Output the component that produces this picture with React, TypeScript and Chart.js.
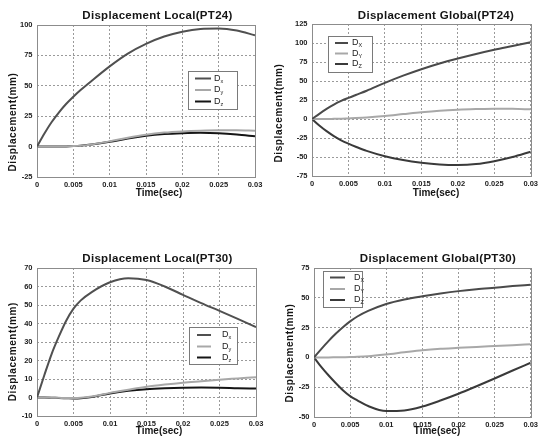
import React, { useEffect, useRef } from "react";
import { Chart, registerables } from "chart.js";

Chart.register(...registerables);

// ---------- data ----------
const timeSec = [0, 0.001, 0.002, 0.003, 0.004, 0.005, 0.006, 0.0075, 0.01, 0.0125, 0.015, 0.0175, 0.02, 0.0225, 0.025, 0.0275, 0.03];
const timeTicks = [0, 0.005, 0.01, 0.015, 0.02, 0.025, 0.03];

const localPT24Dx = [0, 10.5, 20, 28, 35, 41, 46.5, 54, 66, 76.5, 84.5, 90.5, 94.5, 96.8, 97.2, 95.5, 91.5];
const localPT24Dy = [0, 0, 0, 0, 0.1, 0.4, 0.8, 1.8, 4.3, 7.3, 9.8, 11.5, 12.5, 13.1, 13.4, 13.4, 13];
const localPT24Dz = [0, 0, 0, 0, 0.1, 0.4, 0.8, 1.7, 3.9, 6.7, 8.9, 10.3, 11, 11.3, 11, 10, 8.5];
const localPT24Ticks = [-25, 0, 25, 50, 75, 100];

const globalPT24Dx = [0, 6.8, 13.2, 19, 23.8, 27.8, 31.6, 37.2, 47.5, 57, 65.5, 73, 79.5, 85.5, 91, 96, 101];
const globalPT24Dy = [0, 0, 0, 0.2, 0.4, 0.8, 1.2, 2, 4, 6.5, 9, 11, 12.3, 13.1, 13.6, 13.4, 12.7];
const globalPT24Dz = [0, -8.5, -16, -22.5, -28, -32.5, -36.5, -42, -49, -54, -57.5, -59.8, -60.5, -59.3, -55.5, -50, -43];
const globalPT24Ticks = [-75, -50, -25, 0, 25, 50, 75, 100, 125];

const localPT30Dx = [0, 12, 23.5, 33, 41.5, 48, 52.5, 57, 62.3, 64.5, 63.5, 60, 55.5, 51, 46.8, 42.5, 38];
const localPT30Dy = [0, 0, -0.1, -0.2, -0.3, -0.3, -0.2, 0.5, 2.5, 4.2, 5.8, 7, 8, 8.8, 9.6, 10.3, 11];
const localPT30Dz = [0, 0, -0.1, -0.3, -0.4, -0.5, -0.4, 0.3, 2.2, 3.6, 4.5, 5, 5.3, 5.4, 5.3, 5, 4.8];
const localPT30Ticks = [-10, 0, 10, 20, 30, 40, 50, 60, 70];

const globalPT30Dx = [0, 7, 13.7, 19.8, 25.3, 30.2, 34.3, 39, 44.8, 48.6, 51.3, 53.6, 55.6, 57.2, 58.5, 59.8, 61];
const globalPT30Dy = [0, 0, 0, 0.1, 0.2, 0.3, 0.5, 1, 2.5, 4.3, 6, 7.2, 8, 8.8, 9.5, 10.2, 11];
const globalPT30Dz = [0, -8, -15, -21.5, -27.5, -32.5, -36, -40.8, -45, -44.5, -41.2, -36.2, -30.5, -24.2, -17.7, -11, -4.5];
const globalPT30Ticks = [-50, -25, 0, 25, 50, 75];

const localSubs = ["x", "y", "z"];
const globalSubs = ["X", "Y", "Z"];

// ---------- styling ----------
const FONT = "'Liberation Sans', Arial, sans-serif";
const seriesColors = ["#505050", "#a8a8a8", "#151515"];
const globalColors = ["#4a4a4a", "#a8a8a8", "#3a3a3a"];

type PanelCfg = {
  left: number; top: number; w: number; h: number;
  plot: { l: number; r: number; t: number; b: number };
  title: string; titlePos: [number, number];
  xLabelPos: [number, number]; yLabelPos: [number, number];
  legend: { x0: number; y0: number; x1: number; y1: number; rows: number[]; s0: number; s1: number; tx: number };
  series: number[][]; subs: string[]; colors: string[];
  yTicks: number[];
};

const panels: PanelCfg[] = [
  {
    left: 0, top: 0, w: 270, h: 205,
    plot: { l: 37, r: 255, t: 25, b: 177 },
    title: "Displacement Local(PT24)", titlePos: [157.5, 15.5],
    xLabelPos: [159, 193], yLabelPos: [13.7, 122],
    legend: { x0: 188, y0: 71, x1: 237, y1: 109, rows: [78.5, 90, 101.5], s0: 195, s1: 211, tx: 214 },
    series: [localPT24Dx, localPT24Dy, localPT24Dz], subs: localSubs, colors: seriesColors,
    yTicks: localPT24Ticks,
  },
  {
    left: 270, top: 0, w: 271, h: 205,
    plot: { l: 42, r: 264, t: 24, b: 176 },
    title: "Displacement Global(PT24)", titlePos: [166, 16.3],
    xLabelPos: [166, 193], yLabelPos: [8.8, 113],
    legend: { x0: 58, y0: 36, x1: 102, y1: 72, rows: [43, 53.5, 64], s0: 65, s1: 78, tx: 82 },
    series: [globalPT24Dx, globalPT24Dy, globalPT24Dz], subs: globalSubs, colors: globalColors,
    yTicks: globalPT24Ticks,
  },
  {
    left: 0, top: 220, w: 270, h: 219,
    plot: { l: 37, r: 256, t: 48, b: 196 },
    title: "Displacement Local(PT30)", titlePos: [157.5, 38.5],
    xLabelPos: [159, 211.5], yLabelPos: [12.8, 131.7],
    legend: { x0: 189, y0: 107, x1: 237, y1: 144, rows: [115, 126.5, 137.5], s0: 197, s1: 211, tx: 222 },
    series: [localPT30Dx, localPT30Dy, localPT30Dz], subs: localSubs, colors: seriesColors,
    yTicks: localPT30Ticks,
  },
  {
    left: 270, top: 220, w: 271, h: 219,
    plot: { l: 44, r: 265, t: 48, b: 197 },
    title: "Displacement Global(PT30)", titlePos: [168, 39],
    xLabelPos: [167, 211.5], yLabelPos: [20.3, 133],
    legend: { x0: 53, y0: 51, x1: 92, y1: 87, rows: [57.5, 69, 80], s0: 60, s1: 75, tx: 84 },
    series: [globalPT30Dx, globalPT30Dy, globalPT30Dz], subs: globalSubs, colors: globalColors,
    yTicks: globalPT30Ticks,
  },
];

const decorPlugin = {
  id: "decor",
  beforeDatasetsDraw(chart: any) {
    const { ctx, chartArea: a } = chart;
    ctx.save();
    ctx.strokeStyle = "#8c8c8c";
    ctx.lineWidth = 1;
    ctx.setLineDash([]);
    ctx.strokeRect(Math.round(a.left) + 0.5, Math.round(a.top) + 0.5, Math.round(a.right - a.left), Math.round(a.bottom - a.top));
    ctx.restore();
  },
  afterDraw(chart: any, _args: any, o: any) {
    const ctx: CanvasRenderingContext2D = chart.ctx;
    ctx.save();
    ctx.fillStyle = "#151515";
    ctx.textAlign = "center";
    ctx.textBaseline = "middle";
    (ctx as any).letterSpacing = "0.3px";
    ctx.font = `bold 11.5px ${FONT}`;
    ctx.fillText(o.title, o.titlePos[0], o.titlePos[1]);
    ctx.font = `bold 10px ${FONT}`;
    (ctx as any).letterSpacing = "0px";
    ctx.fillText("Time(sec)", o.xLabelPos[0], o.xLabelPos[1]);
    ctx.save();
    ctx.translate(o.yLabelPos[0], o.yLabelPos[1]);
    ctx.rotate(-Math.PI / 2);
    (ctx as any).letterSpacing = "0.6px";
    ctx.fillText("Displacement(mm)", 0, 0);
    ctx.restore();
    (ctx as any).letterSpacing = "0px";
    const L = o.legend;
    ctx.fillStyle = "#ffffff";
    ctx.fillRect(L.x0, L.y0, L.x1 - L.x0, L.y1 - L.y0);
    ctx.strokeStyle = "#7a7a7a";
    ctx.lineWidth = 1;
    ctx.strokeRect(L.x0 + 0.5, L.y0 + 0.5, L.x1 - L.x0, L.y1 - L.y0);
    o.colors.forEach((c: string, i: number) => {
      const y = L.rows[i];
      ctx.strokeStyle = c;
      ctx.lineWidth = 2;
      ctx.beginPath();
      ctx.moveTo(L.s0, y);
      ctx.lineTo(L.s1, y);
      ctx.stroke();
      ctx.fillStyle = "#222";
      ctx.textAlign = "left";
      ctx.font = `9px ${FONT}`;
      ctx.fillText("D", L.tx, y);
      ctx.font = `5.5px ${FONT}`;
      ctx.fillText(o.subs[i], L.tx + 6.5, y + 2.5);
    });
    ctx.restore();
  },
};

function PanelChart({ cfg }: { cfg: PanelCfg }) {
  const ref = useRef<HTMLCanvasElement>(null);
  useEffect(() => {
    const labels = ["D" + cfg.subs[0], "D" + cfg.subs[1], "D" + cfg.subs[2]];
    const chart = new Chart(ref.current as HTMLCanvasElement, {
      type: "line",
      data: {
        datasets: cfg.series.map((s, i) => ({
          label: labels[i],
          data: s.map((v, k) => ({ x: timeSec[k], y: v })),
          borderColor: cfg.colors[i],
          borderWidth: 2,
          pointRadius: 0,
          fill: false,
          cubicInterpolationMode: "monotone" as const,
        })),
      },
      options: {
        animation: false,
        responsive: false,
        maintainAspectRatio: false,
        events: [],
        layout: {
          padding: { top: cfg.plot.t, right: cfg.w - cfg.plot.r, left: 0, bottom: 0 },
        },
        plugins: {
          legend: { display: false },
          title: { display: false },
          tooltip: { enabled: false },
          decor: {
            title: cfg.title, titlePos: cfg.titlePos, xLabelPos: cfg.xLabelPos, yLabelPos: cfg.yLabelPos,
            legend: cfg.legend, colors: cfg.colors, subs: cfg.subs,
          },
        } as any,
        scales: {
          x: {
            type: "linear",
            min: timeTicks[0],
            max: timeTicks[timeTicks.length - 1],
            afterBuildTicks: (scale: any) => { scale.ticks = timeTicks.map((v) => ({ value: v })); },
            afterFit: (scale: any) => { scale.height = cfg.h - cfg.plot.b; },
            grid: { color: "#9a9a9a", lineWidth: 1, drawTicks: false },
            border: { display: false, dash: [2, 2] },
            ticks: {
              padding: 3,
              maxRotation: 0,
              autoSkip: false,
              color: "#222",
              font: { family: FONT, size: 7.5, weight: "bold" },
              callback: (v: any) => String(v),
            },
          },
          y: {
            type: "linear",
            min: cfg.yTicks[0],
            max: cfg.yTicks[cfg.yTicks.length - 1],
            afterBuildTicks: (scale: any) => { scale.ticks = cfg.yTicks.map((v) => ({ value: v })); },
            afterFit: (scale: any) => { scale.width = cfg.plot.l; },
            grid: { color: "#9a9a9a", lineWidth: 1, drawTicks: false },
            border: { display: false, dash: [2, 2] },
            ticks: {
              padding: 4.5,
              autoSkip: false,
              color: "#222",
              font: { family: FONT, size: 7.5, weight: "bold" },
              callback: (v: any) => String(v),
            },
          },
        },
      },
      plugins: [decorPlugin],
    } as any);
    return () => chart.destroy();
  }, []);
  return (
    <canvas
      ref={ref}
      width={cfg.w}
      height={cfg.h}
      style={{ position: "absolute", left: cfg.left, top: cfg.top, width: cfg.w, height: cfg.h }}
    />
  );
}

export default function App() {
  return (
    <div style={{ position: "absolute", left: 0, top: 0, width: 541, height: 439, background: "#fff", overflow: "hidden" }}>
      {panels.map((p, i) => (
        <PanelChart key={i} cfg={p} />
      ))}
    </div>
  );
}
